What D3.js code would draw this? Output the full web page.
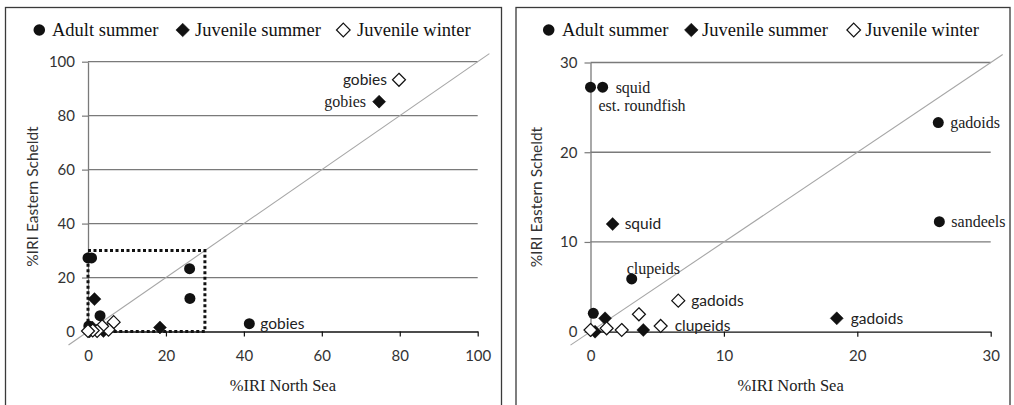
<!DOCTYPE html>
<html><head><meta charset="utf-8">
<script src="https://cdn.jsdelivr.net/npm/d3@7"></script>
<style>body{margin:0;background:#fff;} svg{display:block}</style>
</head><body>
<svg id="c" width="1014" height="405"></svg>
<script>
// ---------- data ----------
const seriesNames = ["Adult summer", "Juvenile summer", "Juvenile winter"];
const adultX = [0, 0.91, 26.07, 26.15, 3.09, 0.21, 41.4];
const adultY = [27.25, 27.25, 23.3, 12.26, 5.88, 2.05, 2.9];
const adultLabels = ["est. roundfish", "squid", "gadoids", "sandeels", "clupeids", "", "gobies"];
const juvSummerX = [74.7, 1.66, 18.46, 1.09, 3.96, 0.34];
const juvSummerY = [85.2, 12.0, 1.49, 1.49, 0.19, 0];
const juvSummerLabels = ["gobies", "squid", "gadoids", "", "", ""];
const juvWinterX = [79.8, 6.58, 5.26, 3.63, 2.34, 1.21, 0];
const juvWinterY = [93.3, 3.46, 0.64, 1.94, 0.19, 0.38, 0.19];
const juvWinterLabels = ["gobies", "gadoids", "clupeids", "", "", "", ""];
const xTitle = "%IRI North Sea";
const yTitle = "%IRI Eastern Scheldt";
const leftTicks = [0, 20, 40, 60, 80, 100];
const rightTicks = [0, 10, 20, 30];
const zoomBox = [0, 30];

// ---------- styles ----------
const SERIF = "'Liberation Serif','Times New Roman',serif";
const SANS = "Lato,'Open Sans',sans-serif";
const labelStyle = {
  "0|est. roundfish": {dx: 8, dy: 18, font: SERIF},
  "0|squid": {dx: 13, dy: 0, font: SERIF},
  "0|gadoids": {dx: 12, dy: 0, font: SERIF},
  "0|sandeels": {dx: 12, dy: 0, font: SERIF},
  "0|clupeids": {dx: -5, dy: -11, font: SERIF},
  "0|gobies": {dx: 11, dy: 0, font: SANS},
  "1|gobies": {dx: -13, dy: 0, font: SERIF, anchor: "end"},
  "1|squid": {dx: 12, dy: 0, font: SANS},
  "1|gadoids": {dx: 14, dy: 0, font: SANS},
  "2|gobies": {dx: -12, dy: 0, font: SANS, anchor: "end"},
  "2|gadoids": {dx: 13, dy: 0, font: SANS},
  "2|clupeids": {dx: 14, dy: 0, font: SANS}
};

const series = [
  {name: seriesNames[0], xs: adultX, ys: adultY, labels: adultLabels, shape: "circle"},
  {name: seriesNames[1], xs: juvSummerX, ys: juvSummerY, labels: juvSummerLabels, shape: "diamond"},
  {name: seriesNames[2], xs: juvWinterX, ys: juvWinterY, labels: juvWinterLabels, shape: "hollow"}
];

const panels = [
  {box: [5.5, 7.5, 496, 420], plot: {l: 88, r: 477.7, t: 61.7, b: 331.5}, max: 100, ticks: leftTicks,
   legend: [39.3, 182.7, 343.3], legendText: [52, 195, 357], ytx: 33, showBox: true, left: true},
  {box: [516, 7.5, 494, 420], plot: {l: 590.5, r: 990.7, t: 62.5, b: 331.7}, max: 30, ticks: rightTicks,
   legend: [548.7, 691.3, 853.7], legendText: [562, 702, 865.3], ytx: 537, showBox: false, left: false}
];

const svg = d3.select("#c");

function drawMarker(g, shape, x, y, s) {
  if (shape === "circle") {
    g.append("circle").attr("cx", x).attr("cy", y).attr("r", 5.5 * s).attr("fill", "#111");
  } else {
    const h = 6.5 * s;
    g.append("path")
      .attr("d", `M${x},${y - h}L${x + h},${y}L${x},${y + h}L${x - h},${y}Z`)
      .attr("fill", shape === "hollow" ? "#fff" : "#111")
      .attr("stroke", "#111").attr("stroke-width", shape === "hollow" ? 1.2 : 0.5);
  }
}

panels.forEach(p => {
  const g = svg.append("g");
  g.append("rect").attr("x", p.box[0]).attr("y", p.box[1]).attr("width", p.box[2]).attr("height", p.box[3])
    .attr("fill", "none").attr("stroke", "#3a3a3a").attr("stroke-width", 1.3);

  const x = d3.scaleLinear().domain([0, p.max]).range([p.plot.l, p.plot.r]);
  const y = d3.scaleLinear().domain([0, p.max]).range([p.plot.b, p.plot.t]);

  // gridlines
  g.append("g").selectAll("line").data(p.ticks.filter(t => t > 0)).join("line")
    .attr("x1", p.plot.l).attr("x2", p.plot.r)
    .attr("y1", d => y(d)).attr("y2", d => y(d))
    .attr("stroke", "#7a7a7a").attr("stroke-width", 1.3);

  // y axis
  const ya = g.append("g").attr("transform", `translate(${p.plot.l},0)`)
    .call(d3.axisLeft(y).tickValues(p.ticks).tickSize(6).tickPadding(7).tickSizeOuter(0));
  ya.select(".domain").attr("stroke", "#7a7a7a").attr("stroke-width", 1.3);
  ya.selectAll(".tick line").attr("stroke", "#7a7a7a").attr("stroke-width", 1.2);
  ya.selectAll(".tick text").attr("font-family", SANS).attr("font-size", 15).attr("fill", "#333");

  // x axis
  const xa = g.append("g").attr("transform", `translate(0,${p.plot.b})`)
    .call(d3.axisBottom(x).tickValues(p.ticks).tickSize(5).tickPadding(14).tickSizeOuter(0));
  xa.select(".domain").attr("stroke", "#111").attr("stroke-width", 1.3);
  xa.selectAll(".tick line").attr("stroke", "#111").attr("stroke-width", 1.2);
  xa.selectAll(".tick text").attr("font-family", SANS).attr("font-size", 15).attr("fill", "#333");

  // diagonal 1:1 line
  g.append("line")
    .attr("x1", x(-0.05 * p.max)).attr("y1", y(-0.05 * p.max))
    .attr("x2", x(1.03 * p.max)).attr("y2", y(1.03 * p.max))
    .attr("stroke", "#a6a6a6").attr("stroke-width", 1.1);

  // dotted zoom box
  if (p.showBox) {
    g.append("rect")
      .attr("x", x(zoomBox[0])).attr("y", y(zoomBox[1]))
      .attr("width", x(zoomBox[1]) - x(zoomBox[0])).attr("height", y(zoomBox[0]) - y(zoomBox[1]))
      .attr("fill", "none").attr("stroke", "#111").attr("stroke-width", 3)
      .attr("stroke-dasharray", "3,2.5");
  }

  // markers
  series.forEach((s, si) => {
    const mg = g.append("g");
    s.xs.forEach((xv, i) => {
      const yv = s.ys[i];
      if (xv > p.max || yv > p.max) return;
      drawMarker(mg, s.shape, x(xv), y(yv), 1);
    });
  });

  // labels
  series.forEach((s, si) => {
    s.xs.forEach((xv, i) => {
      const yv = s.ys[i], lab = s.labels[i];
      if (!lab) return;
      const outside = xv > 30 || yv > 30;
      if (p.left !== outside) return;
      const st = labelStyle[si + "|" + lab];
      const isSerif = st.font === SERIF;
      g.append("text").attr("x", x(xv) + st.dx).attr("y", y(yv) + st.dy)
        .attr("dy", "0.35em").attr("text-anchor", st.anchor || "start")
        .attr("font-family", st.font).attr("font-size", isSerif ? 16 : 15.5)
        .attr("fill", "#222").text(lab);
    });
  });

  // legend
  series.forEach((s, si) => {
    drawMarker(g, s.shape, p.legend[si], 30, 1.05);
    g.append("text").attr("x", p.legendText[si]).attr("y", 36)
      .attr("font-family", SERIF).attr("font-size", 18.5).attr("fill", "#111").text(s.name);
  });

  // axis titles
  g.append("text").attr("x", (p.plot.l + p.plot.r) / 2).attr("y", 391)
    .attr("text-anchor", "middle").attr("font-family", SERIF).attr("font-size", 16.5)
    .attr("fill", "#222").text(xTitle);
  g.append("text").attr("transform", `translate(${p.ytx},${(p.plot.t + p.plot.b) / 2}) rotate(-90)`)
    .attr("text-anchor", "middle").attr("dy", "0.35em").attr("font-family", SANS).attr("font-size", 15.5)
    .attr("fill", "#333").text(yTitle);
});
</script>
</body></html>
